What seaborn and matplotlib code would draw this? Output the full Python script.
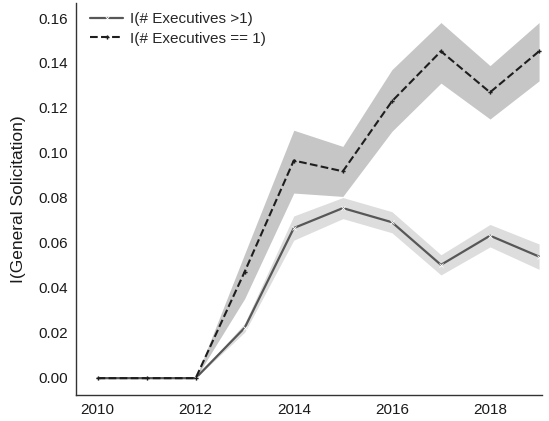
import matplotlib
matplotlib.use("Agg")
import matplotlib.pyplot as plt
import pandas as pd
import seaborn as sns

sns.set_style("white")
plt.rcParams['font.family'] = ['Liberation Sans', 'DejaVu Sans']

years = [2010, 2011, 2012, 2013, 2014, 2015, 2016, 2017, 2018, 2019]

# I(# Executives >1)
multi_mean = [-0.0005, -0.0005, -0.0005, 0.022, 0.0664, 0.0753, 0.069, 0.050, 0.063, 0.0537]
multi_low = [-0.0005, -0.0005, -0.0005, 0.020, 0.061, 0.0706, 0.0643, 0.0455, 0.058, 0.048]
multi_high = [-0.0005, -0.0005, -0.0005, 0.024, 0.0718, 0.080, 0.0737, 0.0545, 0.068, 0.0593]

# I(# Executives == 1)
single_mean = [-0.0005, -0.0005, -0.0005, 0.047, 0.0965, 0.0917, 0.1229, 0.1452, 0.1269, 0.1452]
single_low = [-0.0005, -0.0005, -0.0005, 0.035, 0.082, 0.0805, 0.1095, 0.131, 0.115, 0.132]
single_high = [-0.0005, -0.0005, -0.0005, 0.055, 0.110, 0.1028, 0.137, 0.158, 0.1388, 0.158]

multi = pd.DataFrame({'year': years, 'value': multi_mean})
single = pd.DataFrame({'year': years, 'value': single_mean})

fig = plt.figure(figsize=(5.49, 4.21), dpi=100)
ax = fig.add_axes([0.1384, 0.0618, 0.848, 0.931])

# confidence bands
ax.fill_between(years, single_low, single_high, color='#c6c6c6', lw=0, zorder=1)
ax.fill_between(years, multi_low, multi_high, color='#dddddd', lw=0, zorder=1)

sns.lineplot(data=multi, x='year', y='value', color='#575757', marker='x',
             markersize=3, markeredgewidth=0.6, linewidth=1.6,
             label='I(# Executives >1)', ax=ax, zorder=3)
sns.lineplot(data=single, x='year', y='value', color='#1e1e1e', marker='P',
             markersize=3, markeredgewidth=0, linewidth=1.5, dashes=(5, 2),
             linestyle='--', label='I(# Executives == 1)', ax=ax, zorder=4)

ax.set_xlim(2009.56, 2019.05)
ax.set_ylim(-0.008, 0.1667)
ax.set_xticks([2010, 2012, 2014, 2016, 2018])
ax.set_yticks([0.00, 0.02, 0.04, 0.06, 0.08, 0.10, 0.12, 0.14, 0.16])
ax.set_yticklabels([f'{v:.2f}' for v in ax.get_yticks()])
ax.tick_params(labelsize=11, length=0, pad=6, labelcolor='#1a1a1a')
ax.set_xlabel('')
ax.set_ylabel('I(General Solicitation)', fontsize=12.5, labelpad=9, color='#1a1a1a')

sns.despine(ax=ax)
for s in ['left', 'bottom']:
    ax.spines[s].set_color('#333333')
    ax.spines[s].set_linewidth(1.0)

leg = ax.legend(loc='upper left', frameon=False, fontsize=11, handlelength=2.2,
                handletextpad=0.45, labelspacing=0.35, borderaxespad=0.2,
                bbox_to_anchor=(0.01, 1.0))

fig.savefig('out.png', dpi=100)
